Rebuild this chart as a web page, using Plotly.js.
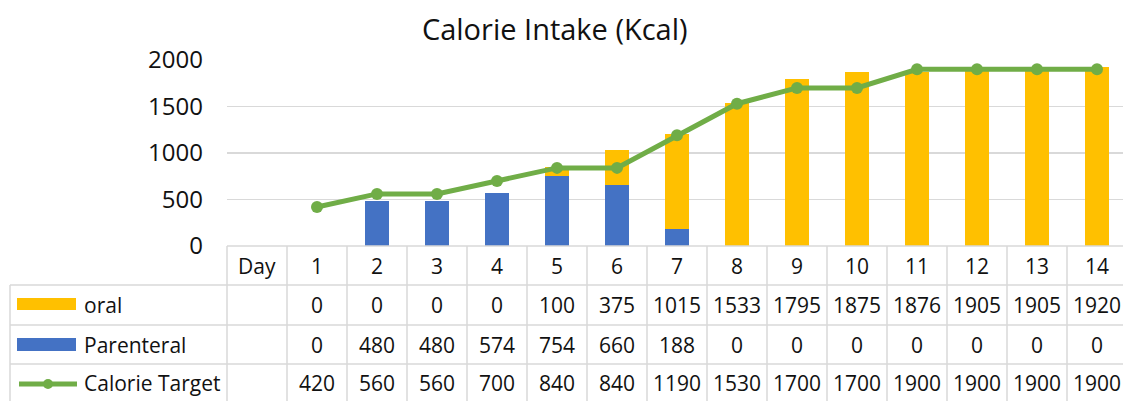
<!DOCTYPE html>
<html><head><meta charset="utf-8">
<script src="https://cdn.plot.ly/plotly-3.0.1.min.js"></script>
<style>html,body{margin:0;padding:0;overflow:hidden;background:#fff}</style>
</head><body><div id="chart" style="width:1123px;height:401px"></div>
<script>
// ---- data ----
const chartTitle = "Calorie Intake (Kcal)";
const headerLabel = "Day";
const days = [1,2,3,4,5,6,7,8,9,10,11,12,13,14];
const seriesNames = ["oral", "Parenteral", "Calorie Target"];
const oral = [0,0,0,0,100,375,1015,1533,1795,1875,1876,1905,1905,1920];
const parenteral = [0,480,480,574,754,660,188,0,0,0,0,0,0,0];
const calorieTarget = [420,560,560,700,840,840,1190,1530,1700,1700,1900,1900,1900,1900];
const yTicks = [0,500,1000,1500,2000];

// ---- styling / layout constants ----
const colors = {oral:"#FFC000", par:"#4472C4", target:"#70AD47", grid:"#D9D9D9", text:"#111111"};
const FONT = "Open Sans, sans-serif";
const W = 1123, H = 401;
const L = 227, T = 60, B = 155, R = 0;
const plotW = W - L - R, plotH = H - T - B;
const colW = 60;
const cats = [headerLabel].concat(days.map(String));
const xr = [-0.5, -0.5 + plotW / colW];

const paperX = px => (px - L) / plotW;
const paperY = py => (H - B - py) / plotH;

const rowTop = [246, 285, 325, 364, 420];   // header, oral, parenteral, target, bottom
const rowCenter = [266, 305, 345, 383];
const tableLeft = 10;

const traces = [
  {type:"bar", name:seriesNames[1], x:days.map(String), y:parenteral, marker:{color:colors.par}, hoverinfo:"skip"},
  {type:"bar", name:seriesNames[0], x:days.map(String), y:oral, marker:{color:colors.oral}, hoverinfo:"skip"},
  {type:"scatter", mode:"lines+markers", name:seriesNames[2], x:days.map(String), y:calorieTarget,
   line:{color:colors.target, width:5}, marker:{color:colors.target, size:12}, hoverinfo:"skip"}
];

const shapes = [];
const gl = {color:colors.grid, width:1.5};
// horizontal table lines
shapes.push({type:"line", xref:"paper", yref:"paper", x0:0, x1:1, y0:paperY(rowTop[0]), y1:paperY(rowTop[0]), line:gl});
for (let i = 1; i < 4; i++) {
  shapes.push({type:"line", xref:"paper", yref:"paper", x0:paperX(tableLeft), x1:1, y0:paperY(rowTop[i]), y1:paperY(rowTop[i]), line:gl});
}
// vertical lines
shapes.push({type:"line", xref:"paper", yref:"paper", x0:paperX(tableLeft), x1:paperX(tableLeft), y0:paperY(rowTop[1]), y1:paperY(rowTop[4]), line:gl});
for (let k = 0; k <= cats.length; k++) {
  const xp = paperX(L + colW * k);
  if (xp > 1.001) continue;
  shapes.push({type:"line", xref:"paper", yref:"paper", x0:xp, x1:xp, y0:paperY(rowTop[0]), y1:paperY(rowTop[4]), line:gl});
}
// legend keys
shapes.push({type:"rect", xref:"paper", yref:"paper", x0:paperX(17), x1:paperX(76), y0:paperY(298), y1:paperY(310), fillcolor:colors.oral, line:{width:0}});
shapes.push({type:"rect", xref:"paper", yref:"paper", x0:paperX(17), x1:paperX(76), y0:paperY(338), y1:paperY(351), fillcolor:colors.par, line:{width:0}});
shapes.push({type:"line", xref:"paper", yref:"paper", x0:paperX(19), x1:paperX(77), y0:paperY(384), y1:paperY(384), line:{color:colors.target, width:5}});
shapes.push({type:"circle", xref:"paper", yref:"paper", x0:paperX(43), x1:paperX(53), y0:paperY(379), y1:paperY(389), fillcolor:colors.target, line:{width:0}});

const annotations = [];
const tf = {family:FONT, size:21, color:colors.text};
// header row
cats.forEach(c => annotations.push({xref:"x", yref:"paper", x:c, y:paperY(rowCenter[0]), text:c, showarrow:false, font:tf, xanchor:"center", yanchor:"middle"}));
// value rows
const rows = [oral, parenteral, calorieTarget];
rows.forEach((vals, r) => {
  annotations.push({xref:"paper", yref:"paper", x:paperX(82), y:paperY(rowCenter[r+1]), text:seriesNames[r], showarrow:false, font:tf, xanchor:"left", yanchor:"middle"});
  vals.forEach((v, i) => annotations.push({xref:"x", yref:"paper", x:String(days[i]), y:paperY(rowCenter[r+1]), text:String(v), showarrow:false, font:tf, xanchor:"center", yanchor:"middle"}));
});

const layout = {
  width:W, height:H,
  margin:{l:L, r:R, t:T, b:B, pad:0},
  paper_bgcolor:"#fff", plot_bgcolor:"#fff",
  showlegend:false,
  barmode:"stack", bargap:0.6,
  title:{text:chartTitle, font:{family:FONT, size:29, color:colors.text}, xref:"container", yref:"container", x:0.494, xanchor:"center", y:1-30/H, yanchor:"middle"},
  xaxis:{type:"category", categoryorder:"array", categoryarray:cats, range:xr, showticklabels:false, showgrid:false, zeroline:false, showline:false, ticks:"", fixedrange:true},
  yaxis:{range:[0,2000], tickvals:yTicks, ticktext:yTicks.map(String), showgrid:true, gridcolor:colors.grid, gridwidth:1.5, zeroline:false, showline:false, ticks:"",
         tickfont:{family:FONT, size:24, color:colors.text}, ticklabelstandoff:23, fixedrange:true},
  shapes:shapes, annotations:annotations
};
Plotly.newPlot("chart", traces, layout, {displayModeBar:false, staticPlot:true});
</script></body></html>
